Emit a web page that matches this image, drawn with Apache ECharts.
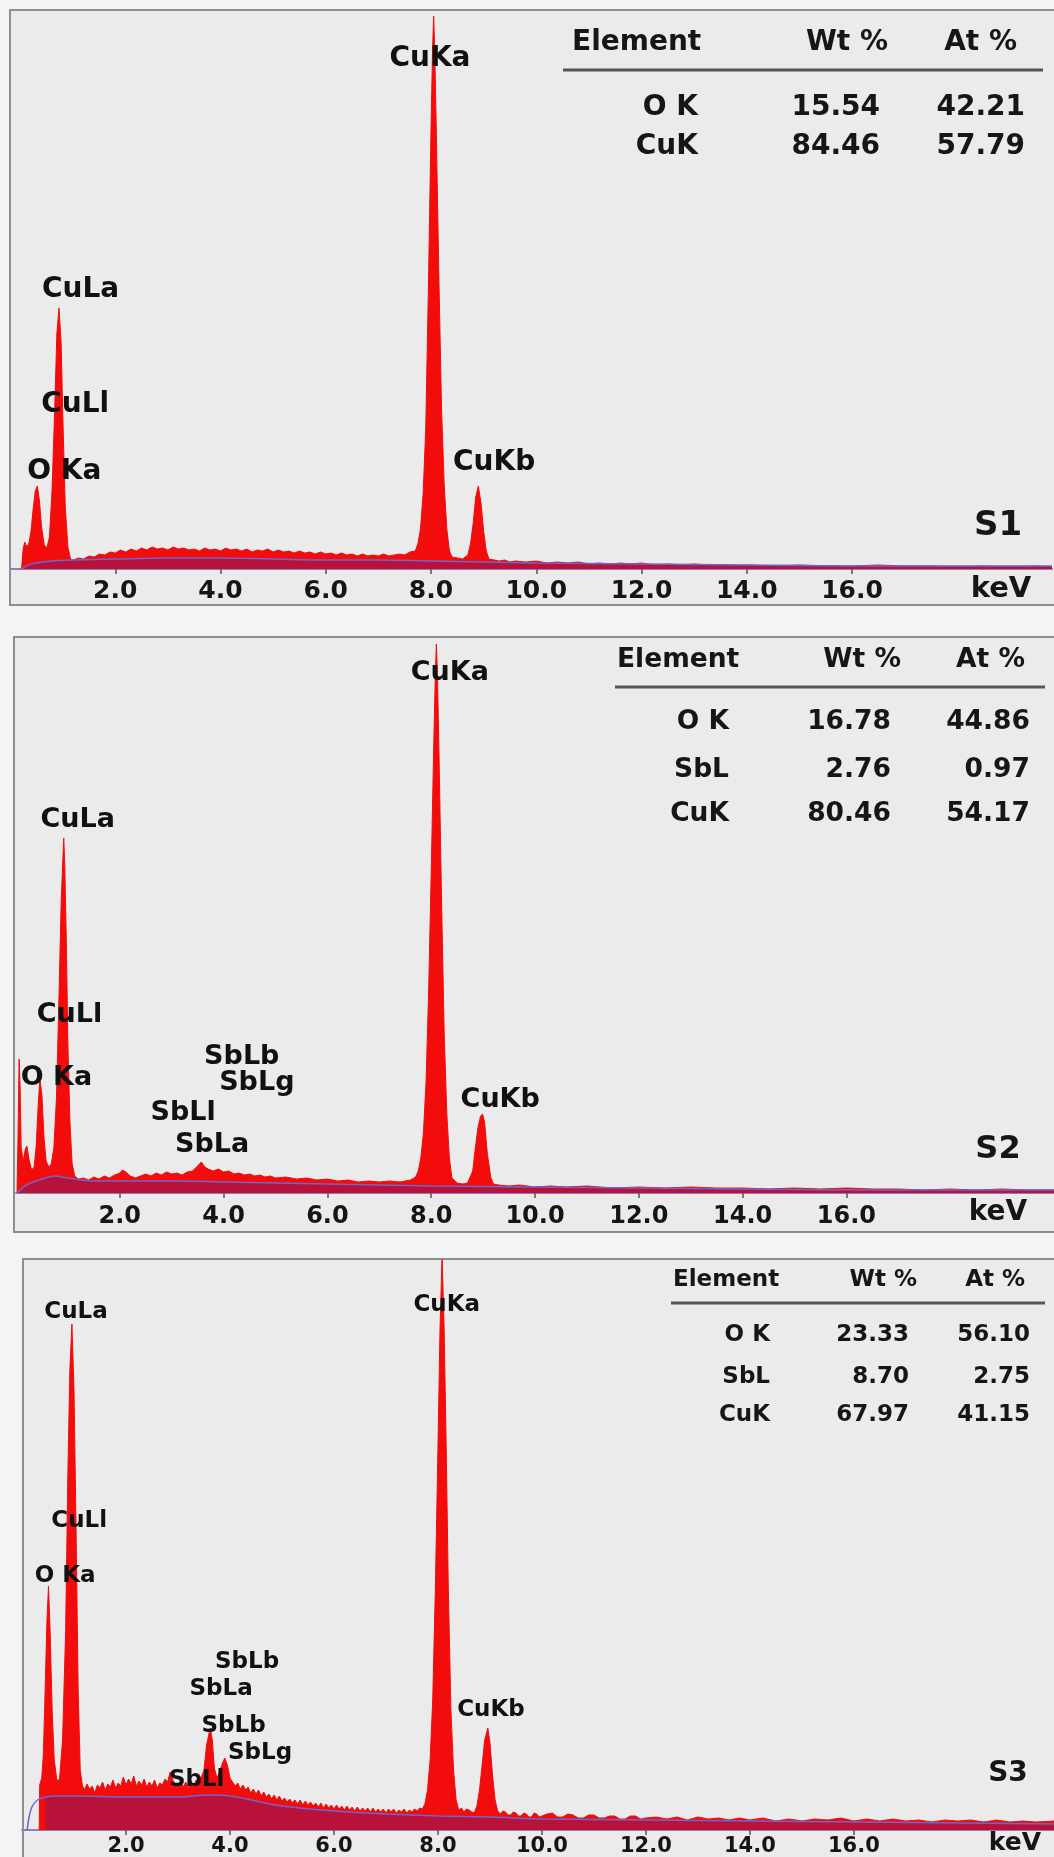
<!DOCTYPE html>
<html>
<head>
<meta charset="utf-8">
<script src="https://cdn.jsdelivr.net/npm/echarts@6/dist/echarts.min.js"></script>
<style>
  html, body { margin: 0; padding: 0; background: #f4f4f4; }
  #chart { width: 1054px; height: 1857px; }
</style>
</head>
<body>
<div id="chart"></div>
<script>
// EDS spectra of three samples (S1, S2, S3): energy in keV, intensity in counts (arbitrary units)

const tickValues = [2, 4, 6, 8, 10, 12, 14, 16];
const tableHeader = ['Element', 'Wt %', 'At %'];
const panelNames = ['S1', 'S2', 'S3'];

// ---------- S1 ----------
const s1Spectrum = [
  [0.22,0],[0.25,20],[0.28,27],[0.32,22],[0.36,26],[0.4,38],[0.44,60],[0.48,78],[0.52,83],[0.56,68],
  [0.6,42],[0.65,24],[0.7,21],[0.75,32],[0.8,80],[0.85,160],[0.89,235],[0.93,261],[0.97,228],[1.01,140],
  [1.05,62],[1.1,22],[1.15,10],[1.2,9],[1.3,11],[1.4,10],[1.5,13],[1.6,12],[1.7,15],[1.8,14],
  [1.9,17],[2.0,16],[2.1,19],[2.2,17],[2.3,20],[2.4,18],[2.5,21],[2.6,19],[2.7,22],[2.8,20],
  [2.9,21],[3.0,19],[3.1,22],[3.2,20],[3.3,21],[3.4,19],[3.5,20],[3.6,18],[3.7,21],[3.8,19],
  [3.9,20],[4.0,18],[4.1,21],[4.2,19],[4.3,20],[4.4,18],[4.5,20],[4.6,17],[4.7,19],[4.8,18],
  [4.9,20],[5.0,17],[5.1,19],[5.2,17],[5.3,18],[5.4,16],[5.5,18],[5.6,16],[5.7,17],[5.8,15],
  [5.9,17],[6.0,15],[6.1,16],[6.2,14],[6.3,16],[6.4,14],[6.5,15],[6.6,13],[6.7,15],[6.8,13],
  [6.9,14],[7.0,13],[7.1,15],[7.2,13],[7.3,14],[7.4,15],[7.5,14],[7.6,17],[7.7,18],[7.75,25],
  [7.8,40],[7.85,75],[7.9,140],[7.95,280],[8.0,440],[8.03,520],[8.05,553],[8.07,520],[8.1,440],[8.15,290],
  [8.2,160],[8.25,85],[8.3,40],[8.35,18],[8.4,12],[8.5,11],[8.6,10],[8.7,14],[8.75,25],[8.8,45],
  [8.85,72],[8.9,83],[8.95,66],[9.0,38],[9.05,18],[9.1,10],[9.2,9],[9.3,8],[9.4,9],[9.5,7],
  [9.6,8],[9.8,7],[10.0,8],[10.2,6],[10.4,7],[10.6,6],[10.8,7],[11.0,5],[11.2,6],[11.4,5],
  [11.6,6],[11.8,5],[12.0,6],[12.25,4],[12.5,5],[12.75,4],[13.0,5],[13.25,4],[13.5,4],[13.75,3],
  [14.0,4],[14.5,3],[15.0,4],[15.5,3],[16.0,3],[16.5,4],[17.0,3],[17.5,3],[18.0,2],[18.5,3],
  [19.0,2],[19.5,3],[19.8,2]
];
const s1Background = [
  [0.22,0],[0.4,5],[0.8,8],[1.2,9],[2,10],[3,11],[4,11],[5,10],[6,9],[7,9],[8,8],[9,7],
  [10,6],[12,5],[14,4],[16,3],[19.8,3]
];
const s1PeakLabels = [
  [7.98,510,'CuKa'],[1.34,279,'CuLa'],[1.24,164,'CuLl'],[1.03,97,'O Ka'],[9.2,106,'CuKb']
];
const s1Table = [['O K','15.54','42.21'],['CuK','84.46','57.79']];

// ---------- S2 ----------
const s2Spectrum = [
  [0.02,0],[0.04,60],[0.06,134],[0.08,105],[0.1,45],[0.14,32],[0.18,44],[0.21,47],[0.25,34],[0.3,23],
  [0.35,26],[0.39,48],[0.43,90],[0.46,114],[0.5,98],[0.54,55],[0.58,32],[0.63,26],[0.68,29],[0.73,45],
  [0.78,95],[0.83,200],[0.87,290],[0.9,330],[0.92,355],[0.94,328],[0.97,250],[1.0,150],[1.04,70],[1.08,30],
  [1.13,17],[1.2,14],[1.3,15],[1.4,13],[1.5,16],[1.6,14],[1.7,17],[1.8,15],[1.9,18],[2.0,20],
  [2.05,23],[2.12,21],[2.2,17],[2.3,15],[2.4,17],[2.5,19],[2.6,17],[2.7,20],[2.8,18],[2.9,21],
  [3.0,19],[3.1,20],[3.2,18],[3.3,21],[3.4,22],[3.5,27],[3.57,31],[3.64,26],[3.7,24],[3.8,22],
  [3.9,24],[4.0,21],[4.1,22],[4.2,19],[4.3,20],[4.4,18],[4.5,19],[4.6,17],[4.7,18],[4.8,16],
  [4.9,17],[5.0,15],[5.2,16],[5.4,14],[5.6,15],[5.8,13],[6.0,14],[6.2,12],[6.4,13],[6.6,11],
  [6.8,12],[7.0,11],[7.2,12],[7.4,11],[7.6,13],[7.7,16],[7.75,22],[7.8,35],[7.85,60],[7.9,110],
  [7.95,200],[8.0,320],[8.05,450],[8.08,520],[8.1,549],[8.12,520],[8.15,440],[8.2,290],[8.25,160],[8.3,80],
  [8.35,35],[8.4,15],[8.5,10],[8.6,9],[8.7,10],[8.8,22],[8.85,45],[8.9,65],[8.95,77],[8.99,79],
  [9.03,70],[9.08,40],[9.15,15],[9.2,9],[9.3,8],[9.5,7],[9.7,8],[10.0,6],[10.3,7],[10.6,6],
  [11.0,7],[11.5,5],[12.0,6],[12.5,5],[13.0,6],[13.5,5],[14.0,5],[14.5,4],[15.0,5],[15.5,4],
  [16.0,5],[16.5,4],[17.0,4],[17.5,3],[18.0,4],[18.5,3],[19.0,4],[19.5,3],[20.0,3]
];
const s2Background = [
  [0.02,0],[0.2,8],[0.5,14],[0.75,17],[1.0,15],[1.5,12],[2,12],[3,12],[4,11],[5,10],[6,9],
  [8,7],[10,6],[12,5],[14,4],[17,3],[20,3]
];
const s2PeakLabels = [
  [8.36,520,'CuKa'],[1.19,373,'CuLa'],[1.03,178,'CuLl'],[0.78,115,'O Ka'],
  [4.35,136,'SbLb'],[4.64,110,'SbLg'],[3.22,80,'SbLl'],[3.78,48,'SbLa'],[9.33,93,'CuKb']
];
const s2Table = [['O K','16.78','44.86'],['SbL','2.76','0.97'],['CuK','80.46','54.17']];

// ---------- S3 ----------
const s3Spectrum = [
  [0.33,0],[0.34,45],[0.38,52],[0.41,75],[0.44,130],[0.48,210],[0.51,244],[0.54,200],[0.58,120],[0.62,70],
  [0.67,50],[0.72,50],[0.78,90],[0.84,200],[0.88,350],[0.92,460],[0.96,506],[1.0,440],[1.04,300],[1.08,140],
  [1.12,60],[1.16,45],
  [1.20,40],[1.25,46],[1.30,41],[1.35,44],[1.40,37],[1.45,45],[1.50,42],[1.55,48],[1.60,40],[1.65,46],
  [1.70,43],[1.75,50],[1.80,42],[1.85,47],[1.90,44],[1.95,53],[2.00,45],[2.05,51],[2.10,46],[2.15,54],
  [2.20,44],[2.25,49],[2.30,45],[2.35,51],[2.40,43],[2.45,48],[2.50,44],[2.55,50],[2.60,42],[2.65,47],
  [2.70,45],[2.75,51],[2.80,48],[2.85,58],[2.90,50],[2.95,46],[3.00,44],[3.05,49],[3.10,43],[3.15,48],
  [3.20,42],[3.25,47],[3.30,44],[3.35,50],[3.40,46],[3.45,53],[3.50,60],[3.55,85],[3.62,102],[3.66,90],
  [3.70,62],[3.75,52],[3.80,58],[3.85,66],[3.90,72],[3.95,65],[4.00,52],[4.05,48],[4.10,44],[4.15,47],
  [4.20,41],[4.25,45],[4.30,40],[4.35,43],[4.40,37],[4.45,41],[4.50,36],[4.55,40],[4.60,34],[4.65,38],
  [4.70,33],[4.75,36],[4.80,31],[4.85,35],[4.90,30],[4.95,34],[5.00,29],[5.05,32],[5.10,28],[5.15,31],
  [5.20,27],[5.25,30],[5.30,26],[5.35,30],[5.40,25],[5.45,29],[5.50,25],[5.55,28],[5.60,24],[5.65,27],
  [5.70,23],[5.75,27],[5.80,22],[5.85,26],[5.90,22],[5.95,25],[6.00,21],[6.05,25],[6.10,21],[6.15,24],
  [6.20,20],[6.25,24],[6.30,20],[6.35,23],[6.40,19],[6.45,23],[6.50,19],[6.55,22],[6.60,19],[6.65,22],
  [6.70,18],[6.75,22],[6.80,18],[6.85,21],[6.90,18],[6.95,21],[7.00,17],[7.05,21],[7.10,18],[7.15,21],
  [7.20,17],[7.25,20],[7.30,18],[7.35,21],[7.40,17],[7.45,20],[7.50,18],[7.55,21],[7.60,19],[7.65,22],
  [7.70,21],[7.75,26],[7.8,40],[7.85,70],[7.9,130],[7.95,240],[8.0,380],
  [8.04,500],[8.08,575],[8.12,500],[8.16,380],[8.2,240],[8.25,120],[8.3,60],[8.35,30],[8.4,20],[8.45,22],
  [8.5,18],[8.55,21],[8.6,20],[8.65,18],[8.7,17],[8.75,24],[8.8,40],[8.85,65],[8.9,90],[8.96,102],
  [9.0,88],[9.05,55],[9.1,30],[9.15,19],[9.2,16],[9.25,19],[9.3,18],[9.35,15],[9.4,15],[9.45,18],
  [9.5,17],[9.55,14],[9.6,14],[9.65,17],[9.7,16],[9.75,13],[9.8,13],[9.85,17],[9.9,16],[9.95,13],
  [10.0,14],[10.1,16],[10.2,17],[10.3,13],[10.4,13],[10.5,16],[10.6,15],[10.7,12],[10.8,12],[10.9,15],
  [11.0,15],[11.1,12],[11.2,12],[11.3,14],[11.4,14],[11.5,11],[11.6,11],[11.7,14],[11.8,14],[11.9,11],
  [12.0,12],[12.2,13],[12.4,11],[12.6,13],[12.8,10],[13.0,13],[13.2,11],[13.4,12],[13.6,10],[13.8,12],
  [14.0,10],[14.25,12],[14.5,9],[14.75,11],[15.0,9],[15.25,11],[15.5,10],[15.75,12],[16.0,9],[16.25,11],
  [16.5,9],[16.75,11],[17.0,9],[17.25,10],[17.5,8],[17.75,10],[18.0,9],[18.25,10],[18.5,8],[18.75,10],
  [19.0,8],[19.25,9],[19.5,8],[19.85,9]
];
const s3Background = [
  [0.1,0],[0.14,14],[0.2,24],[0.3,30],[0.45,33],[0.7,34],[1,34],[2,33],[3,33],[3.6,35],[4,34],
  [4.5,29],[5,24],[6,19],[7,16],[8,14],[9,13],[10,11],[12,10],[14,9],[16,8],[19.85,6]
];
const s3PeakLabels = [
  [8.17,525,'CuKa'],[1.04,518,'CuLa'],[1.10,309,'CuLl'],[0.83,254,'O Ka'],
  [4.33,168,'SbLb'],[3.83,141,'SbLa'],[4.07,104,'SbLb'],[4.58,77,'SbLg'],[3.36,50,'SbLl'],[9.02,120,'CuKb']
];
const s3Table = [['O K','23.33','56.10'],['SbL','8.70','2.75'],['CuK','67.97','41.15']];

// ---------- layout of the three stacked panels ----------
const spectra = [s1Spectrum, s2Spectrum, s3Spectrum];
const backgrounds = [s1Background, s2Background, s3Background];
const peakLabels = [s1PeakLabels, s2PeakLabels, s3PeakLabels];
const tables = [s1Table, s2Table, s3Table];

const FONT = '"DejaVu Sans", sans-serif';
const layout = [
  { frame: [10, 10, 1100, 595], grid: { left: 10, right: 2, top: 10, height: 559 }, xMax: 19.8, yMax: 559,
    tickFont: 25, tickMargin: 10, peakFont: 28, tagFont: 34, tag: [998, 526], kev: [1001, 589],
    table: { font: 28, headY: 43, elemLeft: 572, wtRight: 888, atRight: 1017, ruleY: 70, ruleX: [563, 1043],
             colRight: [698, 880, 1025], rowY: [108, 147] } },
  { frame: [14, 637, 1100, 595], grid: { left: 16, right: 0, top: 638, height: 555 }, xMax: 20, yMax: 555,
    tickFont: 24, tickMargin: 12, peakFont: 27, tagFont: 32, tag: [998, 1150], kev: [998, 1213],
    table: { font: 26.5, headY: 660, elemLeft: 617, wtRight: 901, atRight: 1025, ruleY: 687, ruleX: [615, 1045],
             colRight: [729, 891, 1030], rowY: [722, 770, 814] } },
  { frame: [23, 1259, 1100, 640], grid: { left: 22, right: 0, top: 1260, height: 570 }, xMax: 19.85, yMax: 570,
    tickFont: 21, tickMargin: 6, peakFont: 23, tagFont: 28, tag: [1008, 1774], kev: [1015, 1843],
    table: { font: 23, headY: 1280, elemLeft: 673, wtRight: 917, atRight: 1025, ruleY: 1303, ruleX: [671, 1045],
             colRight: [770, 909, 1030], rowY: [1335, 1377, 1415] } }
];

const grids = [], xAxes = [], yAxes = [], series = [], graphics = [];

layout.forEach((p, i) => {
  grids.push(Object.assign({ containLabel: false }, p.grid));

  xAxes.push({
    type: 'value', gridIndex: i, min: 0, max: p.xMax,
    axisLine: { show: true, onZero: false, lineStyle: { color: '#9a78b4', width: 2 } },
    axisTick: { show: true, customValues: tickValues, length: 5, lineStyle: { color: '#555', width: 1.5 } },
    axisLabel: {
      customValues: tickValues, margin: p.tickMargin, color: '#151515',
      fontFamily: FONT, fontWeight: 'bold', fontSize: p.tickFont,
      formatter: v => v.toFixed(1)
    },
    splitLine: { show: false }
  });
  yAxes.push({ type: 'value', gridIndex: i, min: 0, max: p.yMax, show: false });

  const spec = spectra[i];
  const start = spec[0][0];

  // measured spectrum
  series.push({
    type: 'line', xAxisIndex: i, yAxisIndex: i, data: spec, symbol: 'none', z: 2,
    lineStyle: { color: '#f20c0c', width: 1 },
    areaStyle: { color: '#f20c0c', opacity: 1 },
    silent: true, animation: false
  });
  // fitted background, shaded under the spectrum
  series.push({
    type: 'line', xAxisIndex: i, yAxisIndex: i, z: 3,
    data: backgrounds[i].filter(d => d[0] >= start),
    symbol: 'none', lineStyle: { width: 0 },
    areaStyle: { color: '#b8123a', opacity: 1 },
    silent: true, animation: false
  });
  // fitted background curve
  series.push({
    type: 'line', xAxisIndex: i, yAxisIndex: i, z: 4, data: backgrounds[i],
    symbol: 'none', smooth: 0.3, lineStyle: { color: '#6a66d2', width: 1.5 },
    silent: true, animation: false
  });
  // peak identifications
  series.push({
    type: 'scatter', xAxisIndex: i, yAxisIndex: i, z: 6, data: peakLabels[i],
    symbolSize: 1, itemStyle: { color: 'rgba(0,0,0,0)', opacity: 1 },
    label: {
      show: true, position: 'inside', formatter: d => d.data[2],
      fontFamily: FONT, fontWeight: 'bold', fontSize: p.peakFont, color: '#111111',
      textBorderWidth: 0
    },
    labelLayout: { hideOverlap: false },
    silent: true, animation: false
  });

  // panel frame
  graphics.push({
    type: 'rect', z: -10, silent: true,
    shape: { x: p.frame[0], y: p.frame[1], width: p.frame[2], height: p.frame[3] },
    style: { fill: '#ebebeb', stroke: '#8e8e8e', lineWidth: 2 }
  });

  const txt = (text, x, y, align, size) => ({
    type: 'text', z: 20, silent: true,
    style: { text, x, y, textAlign: align, textVerticalAlign: 'middle',
             font: `bold ${size}px ${FONT}`, fill: '#161616' }
  });

  // sample tag and axis unit
  graphics.push(txt(panelNames[i], p.tag[0], p.tag[1], 'center', p.tagFont));
  graphics.push(txt('keV', p.kev[0], p.kev[1], 'center', p.tickFont + 4));

  // quantification table
  const t = p.table;
  graphics.push(txt(tableHeader[0], t.elemLeft, t.headY, 'left', t.font));
  graphics.push(txt(tableHeader[1], t.wtRight, t.headY, 'right', t.font));
  graphics.push(txt(tableHeader[2], t.atRight, t.headY, 'right', t.font));
  graphics.push({
    type: 'line', z: 20, silent: true,
    shape: { x1: t.ruleX[0], y1: t.ruleY, x2: t.ruleX[1], y2: t.ruleY },
    style: { stroke: '#555555', lineWidth: 3 }
  });
  tables[i].forEach((row, r) => {
    row.forEach((cell, c) => {
      graphics.push(txt(cell, t.colRight[c], t.rowY[r], 'right', t.font));
    });
  });
});

const chart = echarts.init(document.getElementById('chart'), null, { renderer: 'canvas' });
chart.setOption({
  backgroundColor: '#f4f4f4',
  animation: false,
  grid: grids,
  xAxis: xAxes,
  yAxis: yAxes,
  series: series,
  graphic: graphics
});
</script>
</body>
</html>
